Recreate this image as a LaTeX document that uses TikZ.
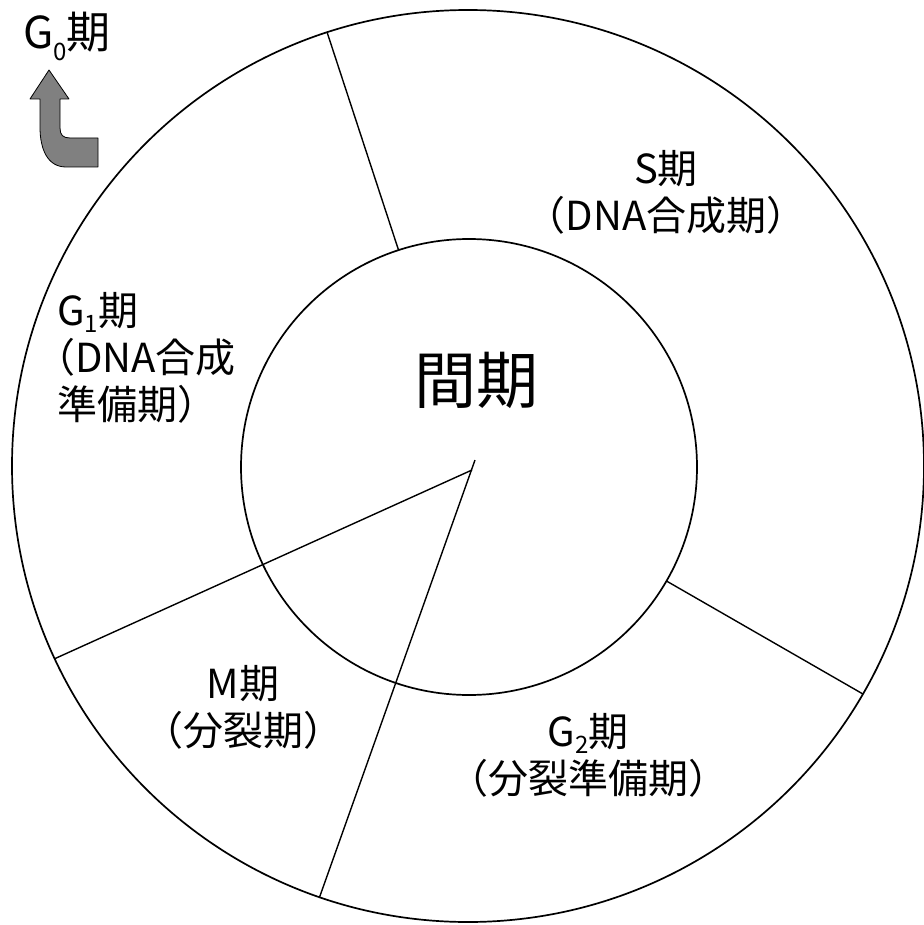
\documentclass[tikz,border=0pt]{standalone}
\usepackage{fontspec}
\setmainfont{Noto Sans CJK JP}
\usetikzlibrary{positioning}
\definecolor{arrowgray}{RGB}{128,128,128}
\newcommand\sub[2][7pt]{\raisebox{-#1}{\fontsize{24}{24}\selectfont #2}}
\tikzset{
  ring/.style={circle,draw,line width=1.7pt,inner sep=0pt,outer sep=0pt},
  divider/.style={line width=1.4pt},
  phase/.style={inner sep=0pt,font=\fontsize{40}{47}\selectfont,align=center},
}

\begin{document}
\begin{tikzpicture}[x=1pt,y=-1pt]
  \useasboundingbox (0,0) rectangle (923,925);
  \node[ring,minimum size=912pt] (cycle) at (468,466) {};
  \node[ring,minimum size=456pt] (inter) at (469,467) {};
  \coordinate (hub a) at (472,470);
  \coordinate (hub b) at (475,460);
  % dividers between the phases
  \draw[divider] (cycle.108) -- (inter.108);
  \draw[divider] (inter.-30) -- (cycle.-30);
  \draw[divider] (hub a) -- (cycle.205);
  \draw[divider] (hub b) -- (cycle.251);

  \node[inner sep=0pt,font=\fontsize{62}{62}\selectfont] (interphase) at (476,380) {間期};
  \node[phase] (s phase) at (666,192) {S期\\（DNA合成期）};
  \node[phase,align=left,anchor=west] (g1 phase) at (57,358)
    {G\sub{1}期\\\hspace*{-0.55em}（DNA合成\\準備期）};
  \node[phase] (m phase) at (243,707) {M期\\（分裂期）};
  \node[phase] (g2 phase) at (588,755) {G\sub{2}期\\（分裂準備期）};
  \node[phase,font=\fontsize{44}{50}\selectfont] (g0 phase) at (67,36) {G\sub[12pt]{0}期};

  % exit to G0
  \filldraw[fill=arrowgray,line width=0.8pt,line join=round]
    (49,70) -- (69,99) -- (60,99) -- (60,128)
    .. controls (60,135) and (63,138) .. (70,138) -- (98,138) -- (98,167) -- (66,167)
    .. controls (48,167) and (40,150) .. (40,127) -- (40,99) -- (30,99) -- cycle;
\end{tikzpicture}
\end{document}
